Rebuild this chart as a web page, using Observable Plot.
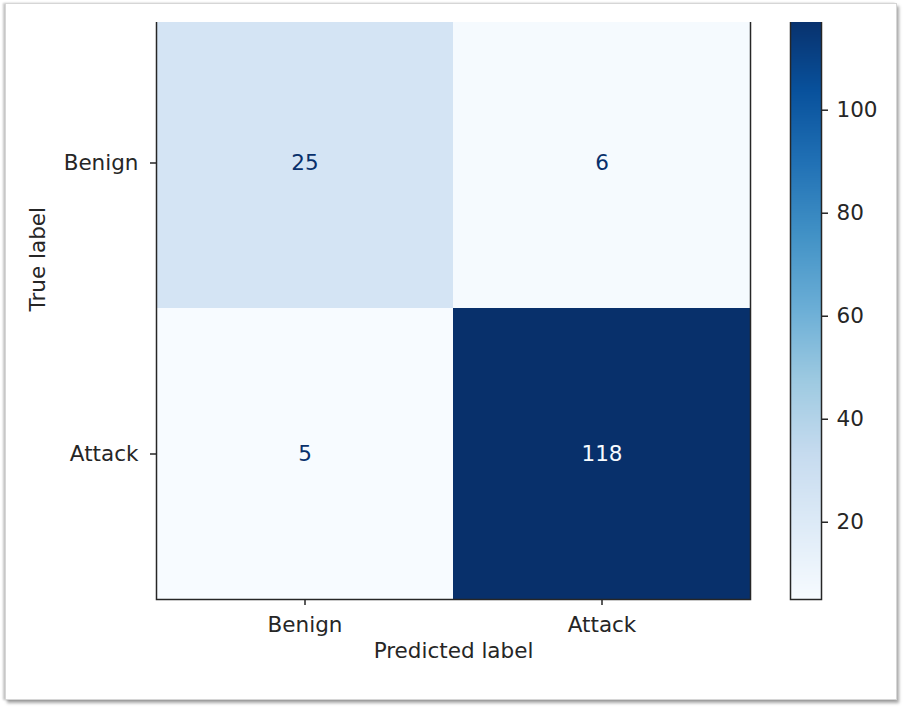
<!DOCTYPE html>
<html>
<head>
<meta charset="utf-8">
<script src="https://cdn.jsdelivr.net/npm/d3@7"></script>
<script src="https://cdn.jsdelivr.net/npm/@observablehq/plot@0.6"></script>
<style>
  html, body { margin: 0; padding: 0; background: #fff; }
  #page { position: relative; width: 903px; height: 707px; overflow: hidden; background: #fff; }
  #frame {
    position: absolute; left: 5px; top: 3px; width: 892px; height: 697px;
    box-sizing: border-box; border: 1px solid #d6d6d6; background: #fff;
    box-shadow: 2px 3px 3px rgba(0,0,0,0.35), -2px 0 2px rgba(0,0,0,0.22);
  }
  #crop { position: absolute; left: 0; top: 22px; width: 903px; height: 660px; overflow: hidden; }
  #matrix, #colorbar { position: absolute; top: -22px; }
  #matrix { left: 0; }
  #colorbar { left: 770px; }
  svg { background: transparent !important; }
</style>
</head>
<body>
<div id="page">
  <div id="frame"></div>
  <div id="crop">
    <div id="matrix"></div>
    <div id="colorbar"></div>
  </div>
</div>
<script>
// Class names, in matrix order
const classes = ["Benign", "Attack"];
// Counts per true label (rows), by predicted label (columns)
const countsTrueBenign = [25, 6];
const countsTrueAttack = [5, 118];
// Colorbar tick values
const colorbarTicks = [20, 40, 60, 80, 100];
// ColorBrewer "Blues" (9 classes), interpolated linearly
const blues9 = ["#f7fbff", "#deebf7", "#c6dbef", "#9ecae1", "#6baed6", "#4292c6", "#2171b5", "#08519c", "#08306b"];

const rows = [countsTrueBenign, countsTrueAttack];
const cells = rows.flatMap((row, i) =>
  row.map((count, j) => ({ actual: classes[i], predicted: classes[j], count }))
);

const vmin = d3.min(cells, d => d.count);
const vmax = d3.max(cells, d => d.count);
const threshold = (vmin + vmax) / 2;
const colorScale = {
  type: "linear",
  domain: blues9.map((_, k) => vmin + (vmax - vmin) * k / (blues9.length - 1)),
  range: blues9
};

const font = "DejaVu Sans, sans-serif";
const ink = "#262626";
const fs = 21.5;
const H = 707, TOP = 17, BOTTOM = 108;

const matrix = Plot.plot({
  width: 770,
  height: H,
  marginLeft: 156,
  marginRight: 20,
  marginTop: TOP,
  marginBottom: BOTTOM,
  style: { fontFamily: font, fontSize: fs + "px", color: ink, background: "transparent" },
  x: { type: "band", domain: classes, padding: 0 },
  y: { type: "band", domain: classes, padding: 0 },
  color: colorScale,
  marks: [
    Plot.cell(cells, { x: "predicted", y: "actual", fill: "count", inset: 0 }),
    Plot.text(cells, {
      x: "predicted", y: "actual", text: d => String(d.count),
      fill: d => d.count > threshold ? blues9[0] : blues9[8],
      fontSize: fs
    }),
    Plot.frame({ stroke: ink, strokeWidth: 1.5 }),
    Plot.axisX({ anchor: "bottom", tickSize: 6, tickPadding: 11, label: null, fontSize: fs, strokeWidth: 1.5 }),
    Plot.axisY({ anchor: "left", tickSize: 6, tickPadding: 12, label: null, fontSize: fs, strokeWidth: 1.5 }),
    Plot.text(["Predicted label"], { frameAnchor: "bottom", dy: 58, fontSize: fs, fill: ink }),
    Plot.text(["True label"], { frameAnchor: "left", dx: -118, dy: 3, rotate: -90, fontSize: fs, fill: ink })
  ]
});
document.getElementById("matrix").append(matrix);

const colorbar = Plot.plot({
  width: 133,
  height: H,
  marginLeft: 20,
  marginRight: 82,
  marginTop: TOP,
  marginBottom: BOTTOM,
  style: { fontFamily: font, fontSize: fs + "px", color: ink, background: "transparent" },
  x: { domain: [0, 1], axis: null },
  y: { domain: [vmin, vmax] },
  color: colorScale,
  marks: [
    Plot.raster({ x1: 0, x2: 1, y1: vmin, y2: vmax, fill: (x, y) => y, imageRendering: "auto" }),
    Plot.frame({ stroke: ink, strokeWidth: 1.5 }),
    Plot.axisY({ anchor: "right", ticks: colorbarTicks, tickSize: 6, tickPadding: 9, label: null, fontSize: fs, strokeWidth: 1.5 })
  ]
});
document.getElementById("colorbar").append(colorbar);
</script>
</body>
</html>
